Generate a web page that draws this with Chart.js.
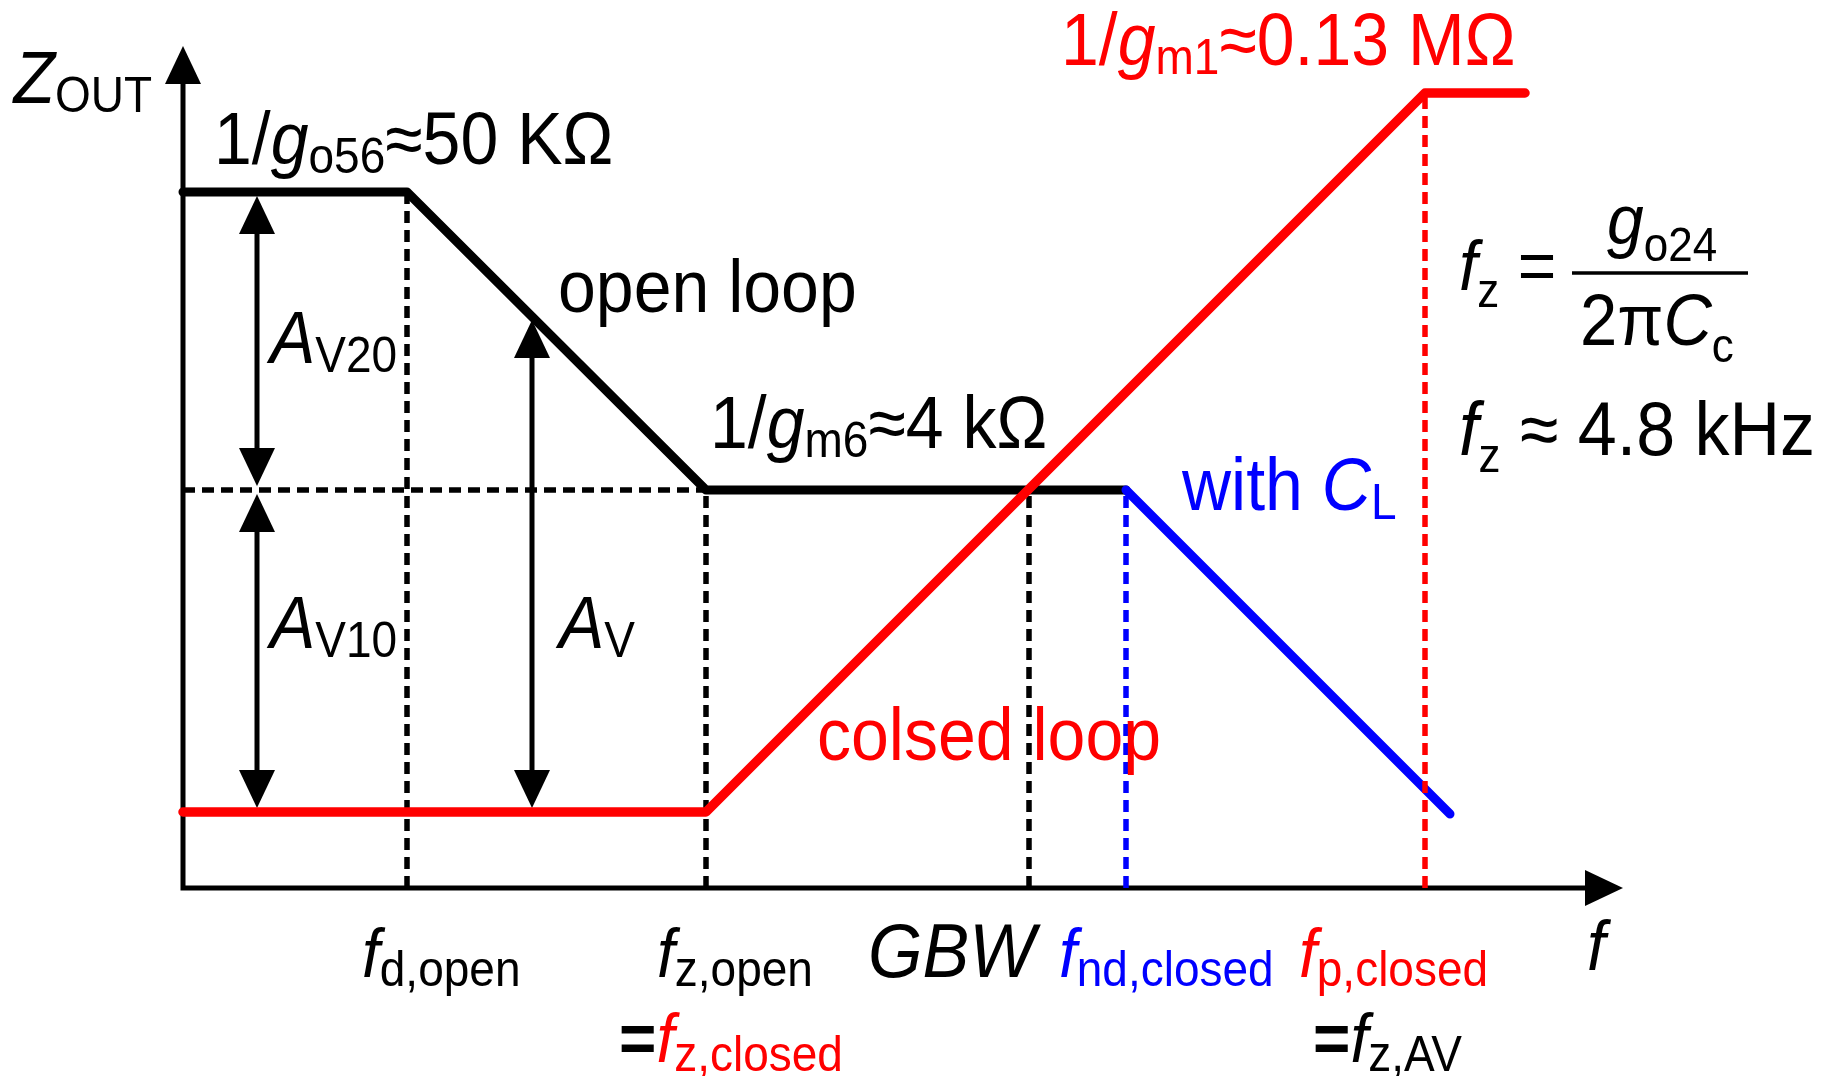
<!DOCTYPE html>
<html lang="en">
<head>
<meta charset="UTF-8">
<title>Z_OUT vs f</title>
<script src="https://cdn.jsdelivr.net/npm/chart.js@4.4.2/dist/chart.umd.min.js"></script>
<style>
  html, body { margin: 0; padding: 0; background: #fff; }
  #wrap { width: 1824px; height: 1076px; }
</style>
</head>
<body>
<div id="wrap"><canvas id="zChart" width="1824" height="1076"></canvas></div>
<script>
// sketch units: log f (x) and log Z (y)
const fMax = 14.4;
const zMax = 8.42;

const openLoopF = [0, 2.24, 5.23, 9.43];
const openLoopZ = [6.96, 6.96, 3.98, 3.98];

const withClF = [9.43, 12.67];
const withClZ = [3.98, 0.74];

const closedLoopF = [0, 5.23, 12.42, 13.42];
const closedLoopZ = [0.76, 0.76, 7.95, 7.95];

// vertical guides: f_d,open, f_z,open, GBW, f_nd,closed, f_p,closed
const guideF = [2.24, 5.23, 8.46, 9.43, 12.42];
const guideTop = [6.96, 3.98, 3.98, 3.98, 7.95];
// horizontal guide at 1/gm6
const hGuideF = [0, 5.23];
const hGuideZ = [3.98, 3.98];

// gain arrows: A_V20, A_V10, A_V
const gainF = [0.74, 0.74, 3.49];
const gainLow = [3.98, 0.76, 0.76];
const gainHigh = [6.96, 3.98, 5.72];

const FONT = '"Liberation Sans", Arial, Helvetica, sans-serif';
const BLK = '#000000', RED = '#ff0000', BLU = '#0000ff';
const STRETCH = 1.08; // the sketch text is a little taller than plain Arial

// text notes: anchor in sketch units, left / baseline
const notes = [
  { x: -1.695, y: 7.85, size: 68, sub: 46, subDy: 8, runs: [{ t: 'Z', it: 1 }, { t: 'OUT', s: 1 }] },
  { x: 0.31, y: 7.24, size: 68, sub: 46, subDy: 8, runs: [{ t: '1/' }, { t: 'g', it: 1 }, { t: 'o56', s: 1 }, { t: '≈50 KΩ' }] },
  { x: 3.75, y: 5.76, size: 68, sub: 46, subDy: 8, runs: [{ t: 'open loop' }] },
  { x: 0.87, y: 5.25, size: 68, sub: 46, subDy: 8, runs: [{ t: 'A', it: 1 }, { t: 'V20', s: 1 }] },
  { x: 0.87, y: 2.40, size: 68, sub: 46, subDy: 8, runs: [{ t: 'A', it: 1 }, { t: 'V10', s: 1 }] },
  { x: 3.76, y: 2.40, size: 68, sub: 46, subDy: 8, runs: [{ t: 'A', it: 1 }, { t: 'V', s: 1 }] },
  { x: 5.27, y: 4.40, size: 68, sub: 46, subDy: 8, runs: [{ t: '1/' }, { t: 'g', it: 1 }, { t: 'm6', s: 1 }, { t: '≈4 kΩ' }] },
  { x: 8.78, y: 8.23, size: 68, sub: 46, subDy: 8, color: RED, runs: [{ t: '1/' }, { t: 'g', it: 1 }, { t: 'm1', s: 1 }, { t: '≈0.13 MΩ' }] },
  { x: 9.99, y: 3.78, size: 68, sub: 46, subDy: 8, color: BLU, runs: [{ t: 'with ' }, { t: 'C', it: 1 }, { t: 'L', s: 1 }] },
  { x: 6.34, y: 1.28, size: 68, sub: 46, subDy: 8, color: RED, runs: [{ t: 'colsed loop' }] },
  { x: 12.76, y: 5.98, size: 66, sub: 44, subDy: 16, runs: [{ t: 'f', it: 1 }, { t: 'z', s: 1 }, { t: ' =' }] },
  { x: 14.24, y: 6.44, size: 66, sub: 44, subDy: 16, runs: [{ t: 'g', it: 1 }, { t: 'o24', s: 1 }] },
  { x: 13.97, y: 5.43, size: 67, sub: 44, subDy: 16, runs: [{ t: '2π' }, { t: 'C', it: 1 }, { t: 'c', s: 1 }] },
  { x: 12.76, y: 4.33, size: 70, sub: 44, subDy: 16, runs: [{ t: 'f', it: 1 }, { t: 'z', s: 1 }, { t: ' ≈ 4.8 kHz' }] },
  { x: 1.79, y: -0.89, size: 64, sub: 46, subDy: 8, runs: [{ t: 'f', it: 1 }, { t: 'd,open', s: 1 }] },
  { x: 4.74, y: -0.89, size: 64, sub: 46, subDy: 8, runs: [{ t: 'f', it: 1 }, { t: 'z,open', s: 1 }] },
  { x: 4.36, y: -1.74, size: 64, sub: 46, subDy: 8, runs: [{ t: '=', b: 1 }, { t: 'f', it: 1, c: RED }, { t: 'z,closed', s: 1, c: RED }] },
  { x: 6.85, y: -0.89, size: 70, sub: 46, subDy: 8, runs: [{ t: 'GBW', it: 1 }] },
  { x: 8.76, y: -0.89, size: 64, sub: 46, subDy: 8, color: BLU, runs: [{ t: 'f', it: 1 }, { t: 'nd,closed', s: 1 }] },
  { x: 11.16, y: -0.89, size: 64, sub: 46, subDy: 8, color: RED, runs: [{ t: 'f', it: 1 }, { t: 'p,closed', s: 1 }] },
  { x: 11.30, y: -1.74, size: 64, sub: 46, subDy: 8, runs: [{ t: '=', b: 1 }, { t: 'f', it: 1 }, { t: 'z,AV', s: 1 }] },
  { x: 14.04, y: -0.82, size: 66, sub: 46, subDy: 8, runs: [{ t: 'f', it: 1 }] }
];
// fraction bar of the f_z formula
const fracBar = { x1: 13.89, x2: 15.65, y: 6.15 };

const pts = (xs, ys) => xs.map((v, i) => ({ x: v, y: ys[i] }));

function lineSet(data, color, width, dash) {
  return {
    data: data,
    showLine: true,
    borderColor: color,
    borderWidth: width,
    borderDash: dash || [],
    borderCapStyle: dash ? 'butt' : 'round',
    borderJoinStyle: 'round',
    pointRadius: 0,
    tension: 0,
    clip: false
  };
}

const DASH = [12, 7];
const guideColors = [BLK, BLK, BLK, BLU, RED];
const guideSets = guideF.map((f, i) =>
  lineSet([{ x: f, y: 0 }, { x: f, y: guideTop[i] }], guideColors[i], 5.5, DASH));
const gainSets = gainF.map((f, i) =>
  lineSet([{ x: f, y: gainLow[i] + 0.3 }, { x: f, y: gainHigh[i] - 0.3 }], BLK, 5));

function arrowHead(ctx, tx, ty, dx, dy, len, half) {
  const bx = tx - dx * len, by = ty - dy * len;
  ctx.beginPath();
  ctx.moveTo(tx, ty);
  ctx.lineTo(bx - dy * half, by + dx * half);
  ctx.lineTo(bx + dy * half, by - dx * half);
  ctx.closePath();
  ctx.fill();
}

function drawNote(ctx, px, py, n) {
  let cx = 0;
  ctx.save();
  ctx.translate(px, py);
  ctx.scale(1, STRETCH);
  n.runs.forEach(r => {
    const fs = r.s ? n.sub : n.size;
    ctx.font = (r.it ? 'italic ' : '') + (r.b ? 'bold ' : '') + fs + 'px ' + FONT;
    ctx.fillStyle = r.c || n.color || BLK;
    ctx.fillText(r.t, cx, r.s ? n.subDy : 0);
    cx += ctx.measureText(r.t).width;
  });
  ctx.restore();
}

const sketchPlugin = {
  id: 'sketch',
  beforeDatasetsDraw(chart) {
    const { ctx, scales: { x, y } } = chart;
    const x0 = x.getPixelForValue(0), y0 = y.getPixelForValue(0);
    const xe = x.getPixelForValue(fMax), ye = y.getPixelForValue(zMax);
    ctx.save();
    ctx.strokeStyle = BLK;
    ctx.fillStyle = BLK;
    ctx.lineWidth = 5;
    ctx.lineCap = 'square';
    ctx.beginPath();
    ctx.moveTo(x0, ye + 30);
    ctx.lineTo(x0, y0);
    ctx.lineTo(xe - 30, y0);
    ctx.stroke();
    arrowHead(ctx, x0, ye, 0, -1, 38, 18);
    arrowHead(ctx, xe, y0, 1, 0, 38, 18);
    // gain arrow heads (lines drawn over the tips)
    gainF.forEach((f, i) => {
      const px = x.getPixelForValue(f);
      arrowHead(ctx, px, y.getPixelForValue(gainHigh[i]) + 4, 0, -1, 38, 18);
      arrowHead(ctx, px, y.getPixelForValue(gainLow[i]) - 4, 0, 1, 38, 18);
    });
    ctx.restore();
  },
  afterDraw(chart) {
    const { ctx, scales: { x, y } } = chart;
    ctx.save();
    ctx.textAlign = 'left';
    ctx.textBaseline = 'alphabetic';
    notes.forEach(n => drawNote(ctx, x.getPixelForValue(n.x), y.getPixelForValue(n.y), n));
    ctx.strokeStyle = BLK;
    ctx.lineWidth = 3.5;
    ctx.beginPath();
    ctx.moveTo(x.getPixelForValue(fracBar.x1), y.getPixelForValue(fracBar.y));
    ctx.lineTo(x.getPixelForValue(fracBar.x2), y.getPixelForValue(fracBar.y));
    ctx.stroke();
    ctx.restore();
  }
};

new Chart(document.getElementById('zChart'), {
  type: 'scatter',
  data: {
    datasets: [
      guideSets[4],
      lineSet(pts(closedLoopF, closedLoopZ), RED, 9.5),
      lineSet(pts(withClF, withClZ), BLU, 9),
      guideSets[3],
      lineSet(pts(openLoopF, openLoopZ), BLK, 9),
      guideSets[0], guideSets[1], guideSets[2],
      lineSet(pts(hGuideF, hGuideZ), BLK, 5.5, DASH),
      ...gainSets
    ]
  },
  options: {
    responsive: false,
    devicePixelRatio: 1,
    animation: false,
    events: [],
    layout: { padding: { left: 183, right: 201, top: 46, bottom: 188 } },
    scales: {
      x: { type: 'linear', min: 0, max: fMax, display: false },
      y: { type: 'linear', min: 0, max: zMax, display: false }
    },
    plugins: { legend: { display: false }, tooltip: { enabled: false } }
  },
  plugins: [sketchPlugin]
});
</script>
</body>
</html>
